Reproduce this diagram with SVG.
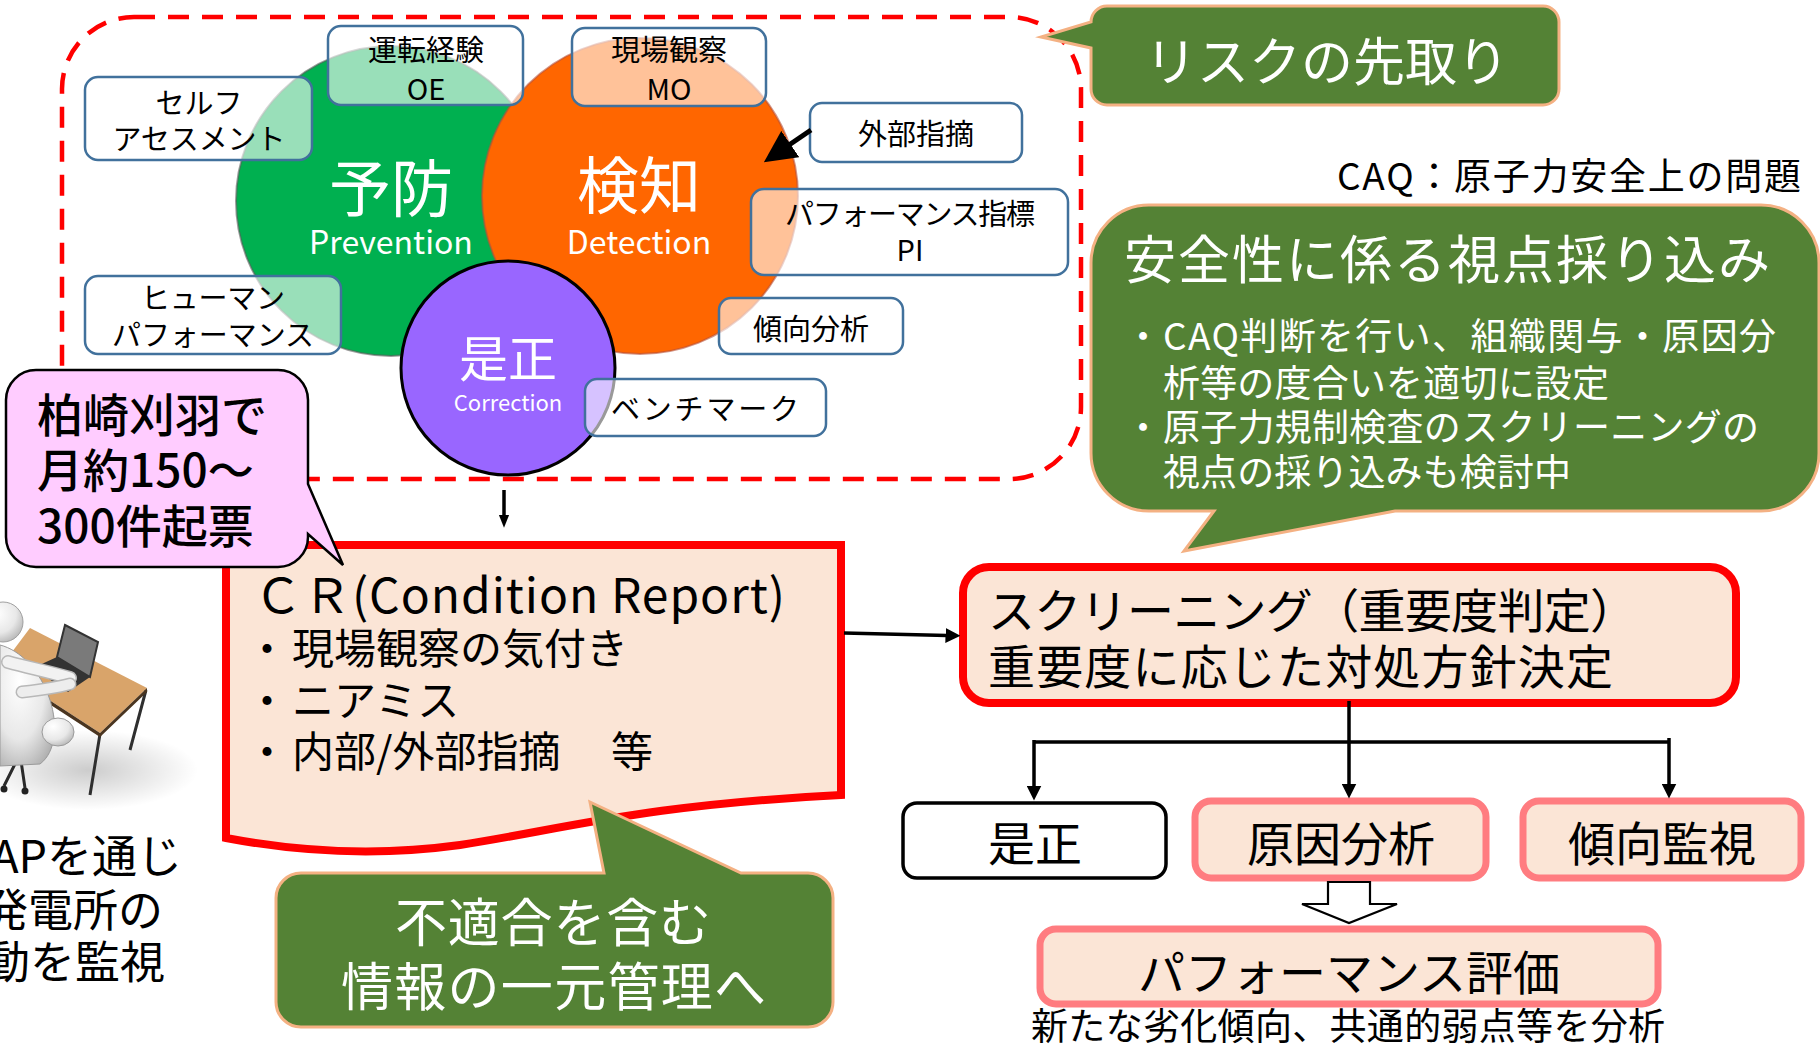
<svg xmlns="http://www.w3.org/2000/svg" width="1820" height="1048" viewBox="0 0 1820 1048">
<defs>
<style>
  text { font-family: "Noto Sans CJK JP", "Noto Sans", sans-serif; fill: #000; }
  .lbl { font-size: 29px; text-anchor: middle; }
  .tag { fill: #fff; fill-opacity: 0.6; stroke: #41719C; stroke-width: 2.5; }
  .big { font-size: 62px; fill: #fff; text-anchor: middle; }
  .en { font-size: 32px; fill: #fff; text-anchor: middle; }
  .callout { fill: #548235; stroke: #F4B183; stroke-width: 3; }
  .w { fill: #fff; }
  .redbox { fill: #FBE5D6; stroke: #FF0000; stroke-width: 8; }
  .pinkbox { fill: #FBE5D6; stroke: #FF7C80; stroke-width: 7; }
  .conn { fill: none; stroke: #000; stroke-width: 3.5; }
  .t47 { font-size: 47px; text-anchor: middle; }
</style>
<marker id="head" viewBox="0 0 10 10" refX="1" refY="5" markerWidth="15" markerHeight="15" markerUnits="userSpaceOnUse" orient="auto">
  <path d="M0,0 L10,5 L0,10 Z" fill="#000"/>
</marker>
<marker id="headSmall" viewBox="0 0 10 10" refX="1" refY="5" markerWidth="13" markerHeight="13" markerUnits="userSpaceOnUse" orient="auto">
  <path d="M0,1 L10,5 L0,9 Z" fill="#000"/>
</marker>
<marker id="headBig" viewBox="0 0 10 10" refX="0.5" refY="5" markerWidth="32" markerHeight="32" markerUnits="userSpaceOnUse" orient="auto">
  <path d="M0,0 L10,5 L0,10 Z" fill="#000"/>
</marker>
<radialGradient id="floorShadow" cx="0.5" cy="0.5" r="0.5">
  <stop offset="0" stop-color="#000" stop-opacity="0.2"/>
  <stop offset="1" stop-color="#000" stop-opacity="0"/>
</radialGradient>
<radialGradient id="whiteBody" cx="0.35" cy="0.3" r="0.8">
  <stop offset="0" stop-color="#ffffff"/>
  <stop offset="0.6" stop-color="#e8e8e8"/>
  <stop offset="1" stop-color="#b0b0b0"/>
</radialGradient>
</defs>

<rect x="0" y="0" width="1820" height="1048" fill="#fff"/>

<!-- outer dashed frame around the risk-anticipation cluster -->
<rect id="frame" x="62" y="17" width="1019" height="462" rx="72" fill="none" stroke="#FF0000" stroke-width="4.5" stroke-dasharray="21 13"/>

<!-- three overlapping circles -->
<g id="prevention">
  <circle cx="391" cy="201" r="155" fill="#00B050" stroke="#5a5a5a" stroke-opacity="0.6" stroke-width="2"/>
  <text class="big" x="391" y="212">予防</text>
  <text class="en" x="391" y="254">Prevention</text>
</g>
<g id="detection">
  <circle cx="640" cy="196" r="158" fill="#FF6600" stroke="#b5503a" stroke-opacity="0.6" stroke-width="2"/>
  <text class="big" x="639" y="209">検知</text>
  <text class="en" x="639" y="254">Detection</text>
</g>
<g id="correction">
  <circle cx="508" cy="368" r="107" fill="#9966FF" stroke="#000" stroke-width="3"/>
  <text x="508" y="377" font-size="49" class="w" text-anchor="middle">是正</text>
  <text x="508" y="411" font-size="22" class="w" text-anchor="middle">Correction</text>
</g>

<!-- input source tags -->
<g id="tag-self">
  <rect class="tag" x="85" y="77" width="227" height="83" rx="13"/>
  <text class="lbl" x="199" y="114">セルフ</text>
  <text class="lbl" x="199" y="150" textLength="173">アセスメント</text>
</g>
<g id="tag-oe">
  <rect class="tag" x="328" y="26" width="195" height="79" rx="13"/>
  <text class="lbl" x="426" y="61">運転経験</text>
  <text class="lbl" x="426" y="100">OE</text>
</g>
<g id="tag-hu">
  <rect class="tag" x="85" y="276" width="256" height="78" rx="13"/>
  <text class="lbl" x="213" y="309" textLength="144">ヒューマン</text>
  <text class="lbl" x="213" y="346" textLength="202">パフォーマンス</text>
</g>
<g id="tag-mo">
  <rect class="tag" x="572" y="28" width="194" height="78" rx="13"/>
  <text class="lbl" x="669" y="61">現場観察</text>
  <text class="lbl" x="669" y="100">MO</text>
</g>
<g id="tag-ext">
  <rect class="tag" x="810" y="103" width="212" height="59" rx="12"/>
  <text class="lbl" x="916" y="145">外部指摘</text>
</g>
<g id="tag-pi">
  <rect class="tag" x="751" y="189" width="317" height="86" rx="13"/>
  <text class="lbl" x="910" y="225" textLength="250">パフォーマンス指標</text>
  <text class="lbl" x="910" y="261">PI</text>
</g>
<g id="tag-trend">
  <rect class="tag" x="719" y="298" width="184" height="56" rx="12"/>
  <text class="lbl" x="811" y="340">傾向分析</text>
</g>
<g id="tag-bench">
  <rect class="tag" x="585" y="379" width="241" height="57" rx="12"/>
  <text class="lbl" x="705" y="420" textLength="188">ベンチマーク</text>
</g>

<!-- condition report document -->
<g id="cr">
  <path class="redbox" d="M226,545 H841 V795 C640,805 560,830 460,845 C380,856 300,852 226,838 Z"/>
  <text x="254" y="613" font-size="48" textLength="531">ＣＲ(Condition Report)</text>
  <text x="267" y="664" font-size="42" text-anchor="middle">・</text>
  <text x="292" y="664" font-size="42">現場観察の気付き</text>
  <text x="267" y="716" font-size="42" text-anchor="middle">・</text>
  <text x="292" y="716" font-size="42">ニアミス</text>
  <text x="267" y="767" font-size="42" text-anchor="middle">・</text>
  <text x="292" y="767" font-size="42">内部/外部指摘</text>
  <text x="611" y="767" font-size="42">等</text>
</g>

<!-- screening -->
<g id="screening">
  <rect class="redbox" x="963" y="567" width="773" height="136" rx="26"/>
  <text x="988" y="628" font-size="47" textLength="649">スクリーニング（重要度判定）</text>
  <text x="988" y="684" font-size="47" textLength="625">重要度に応じた対処方針決定</text>
</g>

<g id="fix">
  <rect x="903" y="803" width="263" height="75" rx="14" fill="#fff" stroke="#000" stroke-width="3.5"/>
  <text class="t47" x="1035" y="861">是正</text>
</g>
<g id="cause">
  <rect class="pinkbox" x="1195" y="801" width="291" height="77" rx="16"/>
  <text class="t47" x="1341" y="861">原因分析</text>
</g>
<g id="trend">
  <rect class="pinkbox" x="1523" y="801" width="278" height="77" rx="16"/>
  <text class="t47" x="1662" y="861">傾向監視</text>
</g>
<g id="perf">
  <rect class="pinkbox" x="1040" y="929" width="618" height="75" rx="16"/>
  <text class="t47" x="1349" y="990">パフォーマンス評価</text>
  <text x="1031" y="1040" font-size="37" textLength="634">新たな劣化傾向、共通的弱点等を分析</text>
</g>

<!-- connectors -->
<g id="connectors">
  <line x1="811" y1="130" x2="789" y2="145" stroke="#000" stroke-width="5" marker-end="url(#headBig)"/>
  <line class="conn" x1="504" y1="490" x2="504" y2="516" stroke-width="2.5" marker-end="url(#headSmall)"/>
  <line class="conn" x1="844" y1="633" x2="947" y2="635.5" marker-end="url(#head)"/>
  <line class="conn" x1="1349" y1="701" x2="1349" y2="785" marker-end="url(#head)"/>
  <path class="conn" d="M1034,742 H1669"/>
  <line class="conn" x1="1034" y1="740" x2="1034" y2="787" marker-end="url(#head)"/>
  <line class="conn" x1="1669" y1="738" x2="1669" y2="785" marker-end="url(#head)"/>
  <path d="M1328,882 H1370 V904 H1397 L1349,923 L1302,904 H1328 Z" fill="#fff" stroke="#000" stroke-width="2.2"/>
</g>

<!-- callouts -->
<g id="callout-risk">
  <path class="callout" d="M1107,6 H1543 A16,16 0 0 1 1559,22 V89 A16,16 0 0 1 1543,105 H1107 A16,16 0 0 1 1091,89 V48 L1041,37 L1091,22 A16,16 0 0 1 1107,6 Z"/>
  <text class="w" x="1145" y="81" font-size="52" textLength="364">リスクの先取り</text>
</g>

<text id="caq-note" x="1337" y="190" font-size="37" textLength="464">CAQ：原子力安全上の問題</text>

<g id="callout-safety">
  <path class="callout" d="M1149,205 H1761 A58,58 0 0 1 1819,263 V453 A58,58 0 0 1 1761,511 H1395 L1184,551 L1214,511 H1149 A58,58 0 0 1 1091,453 V263 A58,58 0 0 1 1149,205 Z"/>
  <text class="w" x="1124" y="279" font-size="52" textLength="646">安全性に係る視点採り込み</text>
  <text class="w" x="1143" y="350" font-size="37" text-anchor="middle">・</text>
  <text class="w" x="1163" y="350" font-size="37" textLength="613">CAQ判断を行い、組織関与・原因分</text>
  <text class="w" x="1163" y="397" font-size="37" textLength="446">析等の度合いを適切に設定</text>
  <text class="w" x="1143" y="441" font-size="37" text-anchor="middle">・</text>
  <text class="w" x="1163" y="441" font-size="37" textLength="596">原子力規制検査のスクリーニングの</text>
  <text class="w" x="1163" y="486" font-size="37" textLength="408">視点の採り込みも検討中</text>
</g>

<g id="callout-count">
  <path d="M36,370 H278 A30,30 0 0 1 308,400 V484 L343,565 L308,534 V537 A30,30 0 0 1 278,567 H36 A30,30 0 0 1 6,537 V400 A30,30 0 0 1 36,370 Z" fill="#FFCCFF" stroke="#000" stroke-width="2.5"/>
  <text x="37" y="432" font-size="46" font-weight="500" textLength="230">柏崎刈羽で</text>
  <text x="37" y="487" font-size="46" font-weight="500">月約150～</text>
  <text x="37" y="543" font-size="46" font-weight="500">300件起票</text>
</g>

<g id="callout-unify">
  <path class="callout" d="M301,873 H604 L590,802 L741,873 H808 A25,25 0 0 1 833,898 V1002 A25,25 0 0 1 808,1027 H301 A25,25 0 0 1 276,1002 V898 A25,25 0 0 1 301,873 Z"/>
  <text class="w" x="395" y="942" font-size="52" textLength="316">不適合を含む</text>
  <text class="w" x="341" y="1006" font-size="52" textLength="425">情報の一元管理へ</text>
</g>

<!-- worker at a desk -->
<g id="worker">
  <ellipse cx="88" cy="770" rx="110" ry="40" fill="url(#floorShadow)"/>
  <!-- chair -->
  <path d="M0,716 L36,722 C44,730 44,744 38,752 L0,756 Z" fill="#3a3a3a"/>
  <path d="M20,754 L25,788 M20,754 L4,786 M22,754 L34,758" stroke="#2a2a2a" stroke-width="3" fill="none"/>
  <circle cx="25" cy="791" r="3.5" fill="#222"/>
  <circle cx="4" cy="789" r="3.5" fill="#222"/>
  <circle cx="35" cy="757" r="3" fill="#222"/>
  <!-- desk legs -->
  <path d="M100,734 L90,795 M146,690 L130,750" stroke="#2f2f2f" stroke-width="3" fill="none"/>
  <!-- desk top -->
  <path d="M30,628 L147,688 L100,733 L0,668 Z" fill="#D9A46A"/>
  <path d="M0,668 L100,733 L147,688 L147,692 L100,737 L0,672 Z" fill="#4a3520"/>
  <!-- laptop -->
  <path d="M65,625 L98,642 L90,677 L57,657 Z" fill="#7a7a7a" stroke="#333" stroke-width="2"/>
  <path d="M33,668 L57,657 L90,677 L68,692 Z" fill="#333"/>
  <!-- figure -->
  <path d="M0,645 C20,650 40,670 50,700 C58,725 56,752 40,764 L0,766 Z" fill="url(#whiteBody)" stroke="#9a9a9a" stroke-width="1"/>
  <path d="M8,662 C30,668 50,672 70,678" stroke="#b8b8b8" stroke-width="14" stroke-linecap="round" fill="none"/>
  <path d="M8,662 C30,668 50,672 70,678" stroke="#f2f2f2" stroke-width="11" stroke-linecap="round" fill="none"/>
  <path d="M22,692 C40,690 56,688 70,684" stroke="#b8b8b8" stroke-width="13" stroke-linecap="round" fill="none"/>
  <path d="M22,692 C40,690 56,688 70,684" stroke="#ededed" stroke-width="10" stroke-linecap="round" fill="none"/>
  <ellipse cx="58" cy="732" rx="16" ry="14" fill="url(#whiteBody)" stroke="#9a9a9a" stroke-width="1"/>
  <circle cx="3" cy="622" r="20" fill="url(#whiteBody)" stroke="#a0a0a0" stroke-width="1"/>
</g>

<g id="worker-caption">
  <text x="182" y="873" font-size="45" text-anchor="end">APを通じ</text>
  <text x="163" y="927" font-size="45" text-anchor="end">発電所の</text>
  <text x="165" y="979" font-size="45" text-anchor="end">動を監視</text>
</g>
</svg>
